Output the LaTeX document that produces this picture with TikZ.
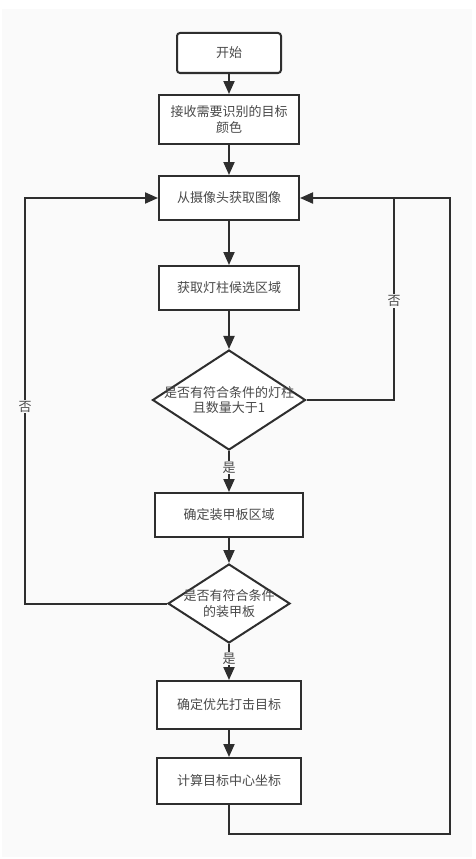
\documentclass[tikz,border=0pt]{standalone}
\usepackage{fontspec}
\newfontfamily\cjk{Noto Sans CJK SC}
\usetikzlibrary{shapes.geometric,arrows.meta}
\definecolor{bgc}{HTML}{FAFAFA}
\definecolor{ink}{HTML}{2E2E2E}
\definecolor{txc}{HTML}{4A4A4A}
\begin{document}
\begin{tikzpicture}[x=1pt,y=-1pt,
  box/.style={draw=ink,line width=2pt,fill=white,rectangle,inner sep=0pt,
    font=\cjk\fontsize{13}{16}\selectfont,text=txc,align=center},
  dia/.style={draw=ink,line width=2pt,fill=white,diamond,inner sep=0pt},
  dtxt/.style={font=\cjk\fontsize{13}{15.5}\selectfont,text=txc,align=center,inner sep=0pt},
  conn/.style={draw=ink,line width=2pt},
  arr/.style={conn,-{Triangle[length=13pt,width=11pt]}},
  lab/.style={font=\cjk\fontsize{13}{15}\selectfont,text=txc,fill=bgc,inner sep=1pt}]
\useasboundingbox (0,0) rectangle (475,859);
\fill[white] (0,0) rectangle (475,859);
\fill[bgc] (2,9) rectangle (472,857);

\node[box,rounded corners=3pt,minimum width=104pt,minimum height=40pt] (start) at (229,53) {开始};
\node[box,minimum width=140pt,minimum height=49pt] (recv) at (229,119.5) {接收需要识别的目标\\颜色};
\node[box,minimum width=140pt,minimum height=44pt] (cap) at (229,198) {从摄像头获取图像};
\node[box,minimum width=140pt,minimum height=44pt] (cand) at (229,288) {获取灯柱候选区域};
\node[dia,minimum width=153pt,minimum height=100pt] (d1) at (229,400) {};
\node[dtxt] (d1t) at (d1.center) {是否有符合条件的灯柱\\且数量大于1};
\node[box,minimum width=148pt,minimum height=44pt] (armor) at (229,515) {确定装甲板区域};
\node[dia,minimum width=122pt,minimum height=79pt] (d2) at (229,603.5) {};
\node[dtxt] (d2t) at (d2.center) {是否有符合条件\\的装甲板};
\node[box,minimum width=144pt,minimum height=48pt] (prio) at (229,705) {确定优先打击目标};
\node[box,minimum width=144pt,minimum height=46pt] (calc) at (229,781) {计算目标中心坐标};

\coordinate (r1) at (394,400);
\coordinate (r1t) at (394,198);
\coordinate (b1) at (229,834);
\coordinate (b2) at (450,834);
\coordinate (b3) at (450,198);
\coordinate (l1) at (25,603.5);
\coordinate (l2) at (25,198);

\draw[arr] (start) -- (recv);
\draw[arr] (recv) -- (cap);
\draw[arr] (cap) -- (cand);
\draw[arr] (cand) -- (d1);
\draw[arr] (d1) -- node[lab,pos=0.4] {是} (armor);
\draw[arr] (armor) -- (d2);
\draw[arr] (d2) -- node[lab,pos=0.4] {是} (prio);
\draw[arr] (prio) -- (calc);

\draw[conn] (d1.east) -- (r1) -- node[lab,pos=0.49] {否} (r1t);
\draw[arr] (calc.south) -- (b1) -- (b2) -- (b3) -- (cap.east);
\draw[arr] (d2.west) -- (l1) -- node[lab,pos=0.485] {否} (l2) -- (cap.west);
\end{tikzpicture}
\end{document}
